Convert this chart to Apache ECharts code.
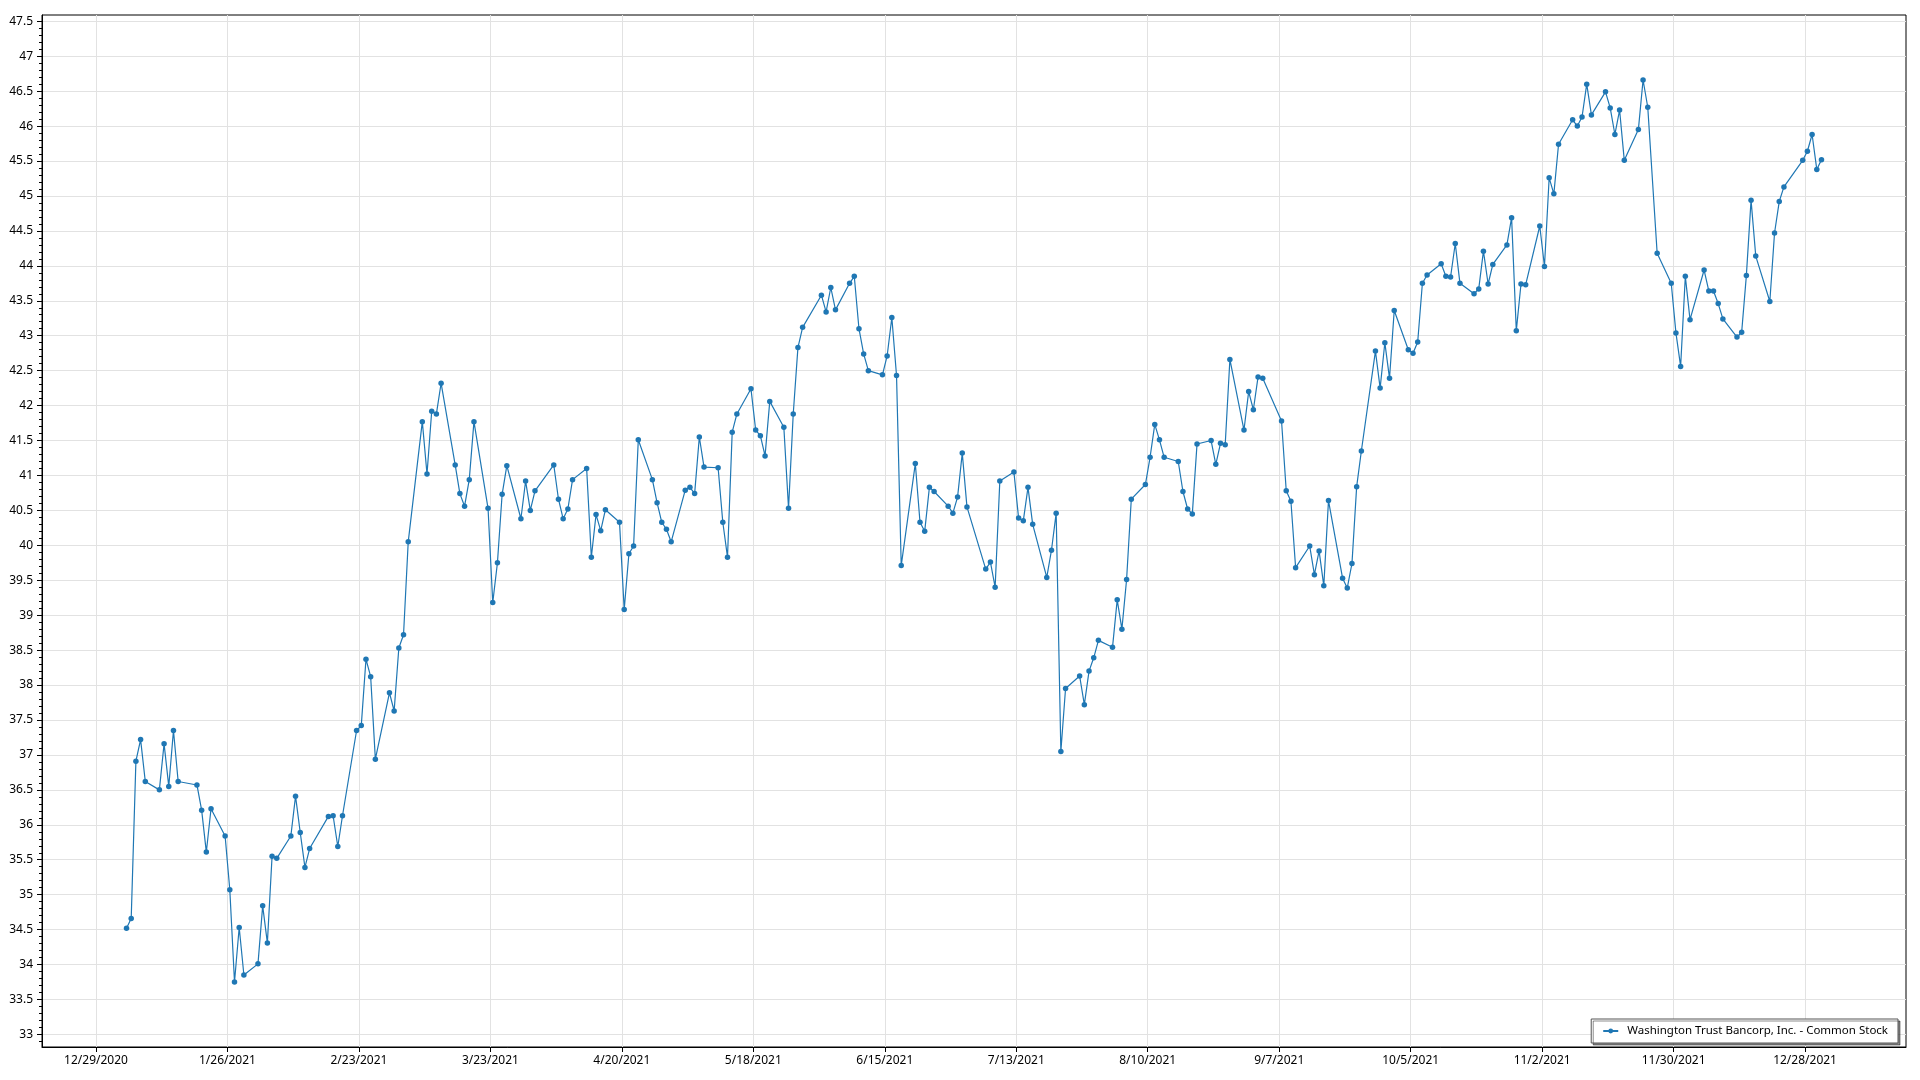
<!DOCTYPE html>
<html>
<head>
<meta charset="utf-8">
<script src="https://cdn.jsdelivr.net/npm/echarts@6/dist/echarts.min.js"></script>
<style>
html,body{margin:0;padding:0;background:#fff;}
#chart{width:1920px;height:1080px;}
</style>
</head>
<body>
<div id="chart"></div>
<script>
const seriesName = 'Washington Trust Bancorp, Inc. - Common Stock';

const tradeDates = [
'2021-01-04','2021-01-05','2021-01-06','2021-01-07','2021-01-08','2021-01-11','2021-01-12','2021-01-13','2021-01-14','2021-01-15','2021-01-19','2021-01-20','2021-01-21','2021-01-22','2021-01-25','2021-01-26','2021-01-27','2021-01-28','2021-01-29',
'2021-02-01','2021-02-02','2021-02-03','2021-02-04','2021-02-05','2021-02-08','2021-02-09','2021-02-10','2021-02-11','2021-02-12','2021-02-16','2021-02-17','2021-02-18','2021-02-19','2021-02-22','2021-02-23','2021-02-24','2021-02-25','2021-02-26',
'2021-03-01','2021-03-02','2021-03-03','2021-03-04','2021-03-05','2021-03-08','2021-03-09','2021-03-10','2021-03-11','2021-03-12','2021-03-15','2021-03-16','2021-03-17','2021-03-18','2021-03-19','2021-03-22','2021-03-23','2021-03-24','2021-03-25','2021-03-26','2021-03-29','2021-03-30','2021-03-31',
'2021-04-01','2021-04-05','2021-04-06','2021-04-07','2021-04-08','2021-04-09','2021-04-12','2021-04-13','2021-04-14','2021-04-15','2021-04-16','2021-04-19','2021-04-20','2021-04-21','2021-04-22','2021-04-23','2021-04-26','2021-04-27','2021-04-28','2021-04-29','2021-04-30',
'2021-05-03','2021-05-04','2021-05-05','2021-05-06','2021-05-07','2021-05-10','2021-05-11','2021-05-12','2021-05-13','2021-05-14','2021-05-17','2021-05-18','2021-05-19','2021-05-20','2021-05-21','2021-05-24','2021-05-25','2021-05-26','2021-05-27','2021-05-28',
'2021-06-01','2021-06-02','2021-06-03','2021-06-04','2021-06-07','2021-06-08','2021-06-09','2021-06-10','2021-06-11','2021-06-14','2021-06-15','2021-06-16','2021-06-17','2021-06-18','2021-06-21','2021-06-22','2021-06-23','2021-06-24','2021-06-25','2021-06-28','2021-06-29','2021-06-30',
'2021-07-01','2021-07-02','2021-07-06','2021-07-07','2021-07-08','2021-07-09','2021-07-12','2021-07-13','2021-07-14','2021-07-15','2021-07-16','2021-07-19','2021-07-20','2021-07-21','2021-07-22','2021-07-23','2021-07-26','2021-07-27','2021-07-28','2021-07-29','2021-07-30',
'2021-08-02','2021-08-03','2021-08-04','2021-08-05','2021-08-06','2021-08-09','2021-08-10','2021-08-11','2021-08-12','2021-08-13','2021-08-16','2021-08-17','2021-08-18','2021-08-19','2021-08-20','2021-08-23','2021-08-24','2021-08-25','2021-08-26','2021-08-27','2021-08-30','2021-08-31',
'2021-09-01','2021-09-02','2021-09-03','2021-09-07','2021-09-08','2021-09-09','2021-09-10','2021-09-13','2021-09-14','2021-09-15','2021-09-16','2021-09-17','2021-09-20','2021-09-21','2021-09-22','2021-09-23','2021-09-24','2021-09-27','2021-09-28','2021-09-29','2021-09-30',
'2021-10-01','2021-10-04','2021-10-05','2021-10-06','2021-10-07','2021-10-08','2021-10-11','2021-10-12','2021-10-13','2021-10-14','2021-10-15','2021-10-18','2021-10-19','2021-10-20','2021-10-21','2021-10-22','2021-10-25','2021-10-26','2021-10-27','2021-10-28','2021-10-29',
'2021-11-01','2021-11-02','2021-11-03','2021-11-04','2021-11-05','2021-11-08','2021-11-09','2021-11-10','2021-11-11','2021-11-12','2021-11-15','2021-11-16','2021-11-17','2021-11-18','2021-11-19','2021-11-22','2021-11-23','2021-11-24','2021-11-26','2021-11-29','2021-11-30',
'2021-12-01','2021-12-02','2021-12-03','2021-12-06','2021-12-07','2021-12-08','2021-12-09','2021-12-10','2021-12-13','2021-12-14','2021-12-15','2021-12-16','2021-12-17','2021-12-20','2021-12-21','2021-12-22','2021-12-23','2021-12-27','2021-12-28','2021-12-29','2021-12-30','2021-12-31'
];

const closePrices = [
34.52,34.66,36.91,37.22,36.62,36.50,37.16,36.55,37.35,36.62,36.57,36.21,35.61,36.23,35.84,35.07,33.75,34.53,33.85,
34.01,34.84,34.31,35.55,35.52,35.84,36.41,35.89,35.39,35.66,36.12,36.13,35.69,36.13,37.35,37.42,38.37,38.12,36.94,
37.89,37.63,38.53,38.72,40.05,41.77,41.02,41.92,41.88,42.32,41.15,40.74,40.56,40.94,41.77,40.53,39.18,39.75,40.73,41.14,40.38,40.92,40.50,
40.78,41.15,40.66,40.38,40.52,40.94,41.10,39.83,40.44,40.21,40.51,40.33,39.08,39.88,39.99,41.51,40.94,40.61,40.33,40.23,40.05,
40.79,40.83,40.74,41.55,41.12,41.11,40.33,39.83,41.62,41.88,42.24,41.65,41.57,41.28,42.06,41.69,40.53,41.88,42.83,43.12,
43.58,43.34,43.69,43.37,43.75,43.85,43.10,42.74,42.50,42.44,42.71,43.26,42.43,39.71,41.17,40.33,40.20,40.83,40.77,40.56,40.46,40.69,
41.32,40.55,39.66,39.76,39.40,40.92,41.05,40.39,40.35,40.83,40.30,39.54,39.93,40.46,37.05,37.95,38.13,37.72,38.20,38.39,38.64,
38.54,39.22,38.80,39.51,40.66,40.87,41.26,41.73,41.51,41.26,41.20,40.77,40.52,40.45,41.45,41.50,41.16,41.46,41.44,42.66,41.65,42.20,
41.94,42.41,42.39,41.78,40.78,40.63,39.68,39.99,39.58,39.92,39.42,40.64,39.53,39.39,39.74,40.84,41.35,42.78,42.25,42.90,42.39,
43.36,42.80,42.75,42.91,43.75,43.87,44.03,43.85,43.84,44.32,43.75,43.60,43.67,44.21,43.74,44.02,44.30,44.69,43.07,43.74,43.73,
44.57,43.99,45.26,45.03,45.74,46.09,46.00,46.13,46.60,46.16,46.49,46.26,45.88,46.23,45.51,45.95,46.66,46.27,44.18,43.75,43.04,
42.56,43.85,43.23,43.94,43.64,43.64,43.46,43.24,42.98,43.05,43.86,44.94,44.14,43.49,44.47,44.92,45.13,45.51,45.64,45.88,45.38,45.52
];

const xTickDates = ['2020-12-29','2021-01-26','2021-02-23','2021-03-23','2021-04-20','2021-05-18','2021-06-15','2021-07-13','2021-08-10','2021-09-07','2021-10-05','2021-11-02','2021-11-30','2021-12-28'];
const yTickValues = [33,33.5,34,34.5,35,35.5,36,36.5,37,37.5,38,38.5,39,39.5,40,40.5,41,41.5,42,42.5,43,43.5,44,44.5,45,45.5,46,46.5,47,47.5];

const DAY = 86400000;
function ts(s, hour) {
  const p = s.split('-').map(Number);
  return Date.UTC(p[0], p[1] - 1, p[2], hour || 0);
}
const seriesData = tradeDates.map((d, i) => [ts(d, 12), closePrices[i]]);
const xTicks = xTickDates.map(d => ts(d, 0));
const xMin = seriesData[0][0] - 18 * DAY;
const xMax = seriesData[seriesData.length - 1][0] + 18 * DAY;
const yMinorTicks = [];
for (let k = 329; k <= 475; k++) { if (k % 5 !== 0) yMinorTicks.push(k / 10); }

const FONT = "'Noto Sans', 'Open Sans', sans-serif";
const fmtDate = v => { const d = new Date(v); return (d.getUTCMonth() + 1) + '/' + d.getUTCDate() + '/' + d.getUTCFullYear(); };

const chart = echarts.init(document.getElementById('chart'), null, { renderer: 'canvas' });
chart.setOption({
  animation: false,
  backgroundColor: '#ffffff',
  textStyle: { fontFamily: FONT },
  grid: {
    left: 42, right: 14, top: 15, bottom: 33,
    containLabel: false, outerBoundsMode: 'none',
    show: true, borderColor: '#000', borderWidth: 1, backgroundColor: 'transparent'
  },
  legend: {
    right: 22, bottom: 37,
    orient: 'horizontal',
    backgroundColor: '#ffffff',
    borderColor: '#555', borderWidth: 1,
    shadowColor: 'rgba(0,0,0,0.45)', shadowOffsetX: 2, shadowOffsetY: 2, shadowBlur: 0,
    padding: [6, 10, 6, 11],
    itemWidth: 15, itemHeight: 6,
    textStyle: { fontFamily: FONT, fontSize: 11.5, color: '#000', padding: [0, 0, 0, 4] },
    data: [seriesName]
  },
  xAxis: {
    type: 'value', min: xMin, max: xMax,
    axisLine: { show: true, lineStyle: { color: '#000', width: 1 } },
    axisTick: { show: true, length: 5, customValues: xTicks, lineStyle: { color: '#000' } },
    axisLabel: { customValues: xTicks, formatter: fmtDate, margin: 8, color: '#000', fontSize: 12, fontFamily: FONT },
    splitLine: { show: true, lineStyle: { color: '#e2e2e2', width: 1 } }
  },
  yAxis: [
    {
      type: 'value', position: 'left', min: 32.82, max: 47.59,
      axisLine: { show: true, lineStyle: { color: '#000', width: 1 } },
      axisTick: { show: true, length: 5, customValues: yTickValues, lineStyle: { color: '#000' } },
      axisLabel: { customValues: yTickValues, formatter: v => String(Math.round(v * 10) / 10), margin: 9, color: '#000', fontSize: 12, fontFamily: FONT },
      splitLine: { show: true, lineStyle: { color: '#e2e2e2', width: 1 } }
    },
    {
      type: 'value', position: 'left', min: 32.82, max: 47.59,
      axisLine: { show: false },
      axisTick: { show: true, length: 3, customValues: yMinorTicks, lineStyle: { color: '#000' } },
      axisLabel: { show: false },
      splitLine: { show: false }
    }
  ],
  series: [{
    name: seriesName,
    type: 'line',
    xAxisIndex: 0, yAxisIndex: 0,
    data: seriesData,
    showSymbol: true, showAllSymbol: true,
    symbol: 'circle', symbolSize: 5.5,
    color: '#1f77b4',
    lineStyle: { color: '#1f77b4', width: 1.2 },
    itemStyle: { color: '#1f77b4' },
    emphasis: { disabled: true }
  }]
});
</script>
</body>
</html>
